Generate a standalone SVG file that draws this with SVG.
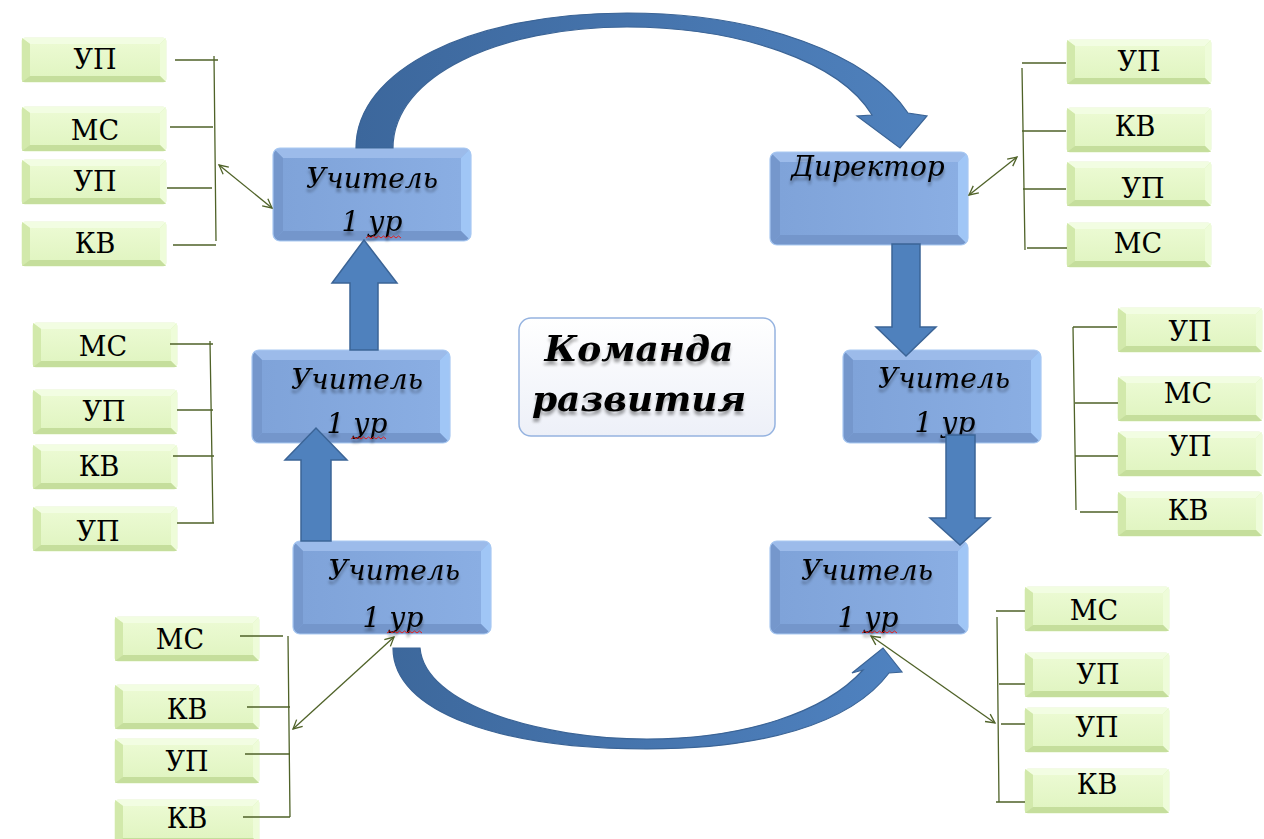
<svg xmlns="http://www.w3.org/2000/svg" xmlns:xlink="http://www.w3.org/1999/xlink" width="1264" height="839" viewBox="0 0 1264 839">
<style>
.gt{font-family:"DejaVu Serif",serif;font-size:27px;fill:#000;text-anchor:middle}
.bt{font-family:"DejaVu Serif",serif;font-style:italic;font-size:28px;fill:#000;text-anchor:middle}
.ct{font-family:"DejaVu Serif",serif;font-style:italic;font-weight:bold;font-size:36px;fill:#000;text-anchor:middle}
.ln{stroke:#4f6228;stroke-width:1.3;fill:none}
.da{stroke:#4f6228;stroke-width:1.3;fill:none;marker-start:url(#oa);marker-end:url(#oa)}
.ar{fill:#4f81bd;stroke:#3b6496;stroke-width:1.5}
</style>
<defs>
  <linearGradient id="gface" x1="0" y1="0" x2="0" y2="1">
    <stop offset="0" stop-color="#ebfad2"/>
    <stop offset="1" stop-color="#e1f5c2"/>
  </linearGradient>
  <linearGradient id="bface" x1="0" y1="0" x2="1" y2="0">
    <stop offset="0" stop-color="#7fa3d9"/>
    <stop offset="1" stop-color="#8aaee3"/>
  </linearGradient>
  <linearGradient id="cface" x1="0" y1="0" x2="0" y2="1">
    <stop offset="0" stop-color="#ffffff"/>
    <stop offset="1" stop-color="#edf0f8"/>
  </linearGradient>
  <linearGradient id="arcTop" x1="0" y1="0" x2="1" y2="0">
    <stop offset="0" stop-color="#3c679c"/>
    <stop offset="1" stop-color="#4f81bd"/>
  </linearGradient>
  <linearGradient id="arcBot" x1="0" y1="0" x2="1" y2="0">
    <stop offset="0" stop-color="#3d689c"/>
    <stop offset="1" stop-color="#4f82c0"/>
  </linearGradient>
  <clipPath id="bclip"><rect width="198" height="93" rx="7"/></clipPath>
  <filter id="tsh" x="-10%" y="-30%" width="120%" height="180%">
    <feGaussianBlur in="SourceAlpha" stdDeviation="1.6" result="b"/>
    <feOffset in="b" dy="4" result="o"/>
    <feComponentTransfer in="o" result="s"><feFuncA type="linear" slope="0.35"/></feComponentTransfer>
    <feMerge><feMergeNode in="s"/><feMergeNode in="SourceGraphic"/></feMerge>
  </filter>
  <marker id="oa" markerWidth="12" markerHeight="12" refX="10" refY="6" orient="auto-start-reverse" markerUnits="userSpaceOnUse">
    <path d="M1,1.5 L10,6 L1,10.5" fill="none" stroke="#4f6228" stroke-width="1.3"/>
  </marker>
  <g id="gb">
    <rect width="144" height="44" rx="3" fill="#d9efb6" stroke="#e6f5cf" stroke-width="1"/>
    <polygon points="0,0 144,0 138,6 8,6" fill="#f2fde2"/>
    <polygon points="0,0 8,6 8,38 0,44" fill="#d2e9ab"/>
    <polygon points="144,0 144,44 138,38 138,6" fill="#eefcd9"/>
    <polygon points="0,44 8,38 138,38 144,44" fill="#c5de9c"/>
    <rect x="8" y="6" width="130" height="32" fill="url(#gface)"/>
  </g>
  <g id="bb">
    <g clip-path="url(#bclip)">
      <rect width="198" height="93" fill="url(#bface)"/>
      <polygon points="0,0 198,0 188,10 10,10" fill="#9cbbea"/>
      <polygon points="0,0 10,10 10,83 0,93" fill="#7597cc"/>
      <polygon points="198,0 198,93 188,83 188,10" fill="#a0c6f6"/>
      <polygon points="0,93 10,83 188,83 198,93" fill="#7496cb"/>
      <rect x="10" y="10" width="178" height="73" fill="url(#bface)"/>
    </g>
    <rect width="198" height="93" rx="7" fill="none" stroke="#a9c9f2" stroke-width="1.2"/>
  </g>
  <path id="sq" d="M0,0 l2.5,-2 l2.5,2 l2.5,-2 l2.5,2 l2.5,-2 l2.5,2 l2.5,-2 l2.5,2 l2.5,-2 l2.5,2 l2.5,-2 l2.5,2 l2.5,-2 l2.5,2" fill="none" stroke="#e02020" stroke-width="1"/>
</defs>

<rect width="1264" height="839" fill="#ffffff"/>

<g id="teacher-top-left">
  <use href="#bb" x="273" y="148"/>
  <text class="bt" x="372" y="188" filter="url(#tsh)">Учитель</text>
  <text class="bt" x="372" y="231" filter="url(#tsh)">1 ур</text>
  <use href="#sq" x="366" y="238"/>
</g>
<g id="director">
  <use href="#bb" x="770" y="152"/>
  <text class="bt" x="868" y="176" filter="url(#tsh)">Директор</text>
</g>
<g id="teacher-mid-left">
  <use href="#bb" x="252" y="350"/>
  <text class="bt" x="357" y="389" filter="url(#tsh)">Учитель</text>
  <text class="bt" x="357" y="433" filter="url(#tsh)">1 ур</text>
  <use href="#sq" x="351" y="439"/>
</g>
<g id="teacher-mid-right">
  <use href="#bb" x="843" y="350"/>
  <text class="bt" x="944" y="388" filter="url(#tsh)">Учитель</text>
  <text class="bt" x="945" y="432" filter="url(#tsh)">1 ур</text>
</g>
<g id="teacher-bottom-left">
  <use href="#bb" x="293" y="541"/>
  <text class="bt" x="394" y="580" filter="url(#tsh)">Учитель</text>
  <text class="bt" x="393" y="627" filter="url(#tsh)">1 ур</text>
  <use href="#sq" x="387" y="633"/>
</g>
<g id="teacher-bottom-right">
  <use href="#bb" x="770" y="541"/>
  <text class="bt" x="867" y="580" filter="url(#tsh)">Учитель</text>
  <text class="bt" x="868" y="627" filter="url(#tsh)">1 ур</text>
  <use href="#sq" x="862" y="633"/>
</g>

<g id="team">
  <rect x="519" y="318" width="256" height="118" rx="12" fill="url(#cface)" stroke="#95b3e0" stroke-width="1.5"/>
  <text class="ct" x="639" y="361" filter="url(#tsh)">Команда</text>
  <text class="ct" x="639" y="411" filter="url(#tsh)">развития</text>
</g>

<g id="tl-1"><use href="#gb" x="22" y="38"/><text class="gt" x="95" y="69">УП</text></g>
<g id="tl-2"><use href="#gb" x="22" y="107"/><text class="gt" x="95" y="140">МС</text></g>
<g id="tl-3"><use href="#gb" x="22" y="160"/><text class="gt" x="95" y="191">УП</text></g>
<g id="tl-4"><use href="#gb" x="22" y="222"/><text class="gt" x="95" y="253">КВ</text></g>
<g id="tr-1"><use href="#gb" x="1067" y="40"/><text class="gt" x="1139" y="71">УП</text></g>
<g id="tr-2"><use href="#gb" x="1067" y="108"/><text class="gt" x="1135" y="136">КВ</text></g>
<g id="tr-3"><use href="#gb" x="1067" y="162"/><text class="gt" x="1143" y="198">УП</text></g>
<g id="tr-4"><use href="#gb" x="1067" y="223"/><text class="gt" x="1138" y="253">МС</text></g>
<g id="ml-1"><use href="#gb" x="33" y="323"/><text class="gt" x="103" y="356">МС</text></g>
<g id="ml-2"><use href="#gb" x="33" y="390"/><text class="gt" x="104" y="421">УП</text></g>
<g id="ml-3"><use href="#gb" x="33" y="445"/><text class="gt" x="99" y="476">КВ</text></g>
<g id="ml-4"><use href="#gb" x="33" y="507"/><text class="gt" x="98" y="541">УП</text></g>
<g id="mr-1"><use href="#gb" x="1118" y="308"/><text class="gt" x="1190" y="341">УП</text></g>
<g id="mr-2"><use href="#gb" x="1118" y="377"/><text class="gt" x="1188" y="403">МС</text></g>
<g id="mr-3"><use href="#gb" x="1118" y="432"/><text class="gt" x="1190" y="456">УП</text></g>
<g id="mr-4"><use href="#gb" x="1118" y="492"/><text class="gt" x="1188" y="520">КВ</text></g>
<g id="bl-1"><use href="#gb" x="115" y="617"/><text class="gt" x="180" y="649">МС</text></g>
<g id="bl-2"><use href="#gb" x="115" y="685"/><text class="gt" x="187" y="719">КВ</text></g>
<g id="bl-3"><use href="#gb" x="115" y="739"/><text class="gt" x="187" y="771">УП</text></g>
<g id="bl-4"><use href="#gb" x="115" y="800"/><text class="gt" x="187" y="828">КВ</text></g>
<g id="br-1"><use href="#gb" x="1025" y="587"/><text class="gt" x="1094" y="620">МС</text></g>
<g id="br-2"><use href="#gb" x="1025" y="653"/><text class="gt" x="1098" y="684">УП</text></g>
<g id="br-3"><use href="#gb" x="1025" y="708"/><text class="gt" x="1097" y="737">УП</text></g>
<g id="br-4"><use href="#gb" x="1025" y="769"/><text class="gt" x="1097" y="794">КВ</text></g>

<g id="connectors">
  <path d="M356,148 C356,70 470,13 627,13 C760,13 870,55 908,113 L927,116 L900,148 L857,116 L872,115 C840,62 740,27 627,27 C500,27 393,75 393,148 Z" fill="url(#arcTop)" stroke="#3b6496" stroke-width="1.2"/>
  <path d="M393,648 L420,648 C425,705 540,739 647,739 C745,739 825,712 863,670 L852,673 L883,648 L902,672 L889,673 C850,725 760,749 647,749 C500,749 393,712 393,648 Z" fill="url(#arcBot)" stroke="#3b6496" stroke-width="1.2"/>
  <polygon class="ar" points="350,350 378,350 378,283 397,283 364,240 332,283 350,283"/>
  <polygon class="ar" points="301,541 331,541 331,460 347,460 316,428 285,460 301,460"/>
  <polygon class="ar" points="892,244 920,244 920,327 936,327 906,356 876,327 892,327"/>
  <polygon class="ar" points="946,435 975,435 975,518 990,518 960,545 930,518 946,518"/>
  <path class="ln" d="M175,60 H218 M170,127 H213 M167,188 H212 M173,245 H216 M214,56 L216,241"/>
  <line class="da" x1="219" y1="165" x2="272" y2="208"/>
  <path class="ln" d="M1022,63 H1066 M1022,131 H1066 M1023,189 H1066 M1027,248 H1067 M1022,68 L1025,250"/>
  <line class="da" x1="969" y1="195" x2="1017" y2="157"/>
  <path class="ln" d="M170,344 H213 M177,410 H213 M173,456 H214 M177,523 H214 M210,341 L213,523"/>
  <path class="ln" d="M1073,327 H1117 M1075,403 H1118 M1075,456 H1118 M1080,512 H1118 M1073,327 L1076,510"/>
  <path class="ln" d="M240,636 H283 M247,707 H290 M245,754 H290 M243,817 H290 M288,636 L290,817"/>
  <line class="da" x1="394" y1="637" x2="293" y2="729"/>
  <path class="ln" d="M996,611 H1025 M999,684 H1025 M1001,724 H1025 M996,802 H1025 M997,617 L999,802"/>
  <line class="da" x1="871" y1="636" x2="995" y2="723"/>
</g>
</svg>
